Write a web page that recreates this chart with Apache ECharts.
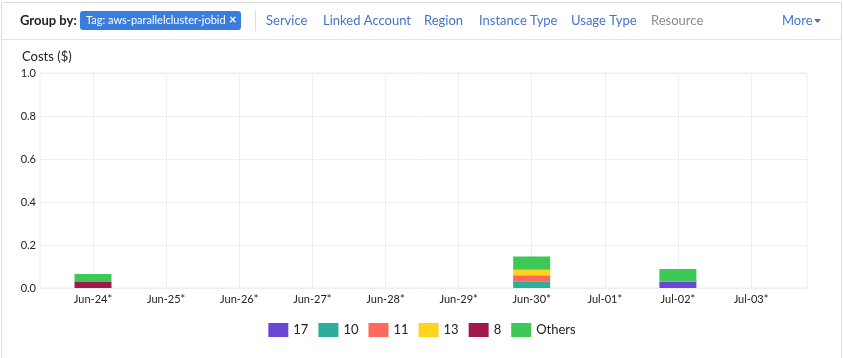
<!DOCTYPE html>
<html><head><meta charset="utf-8">
<script src="https://cdn.jsdelivr.net/npm/echarts@6/dist/echarts.min.js"></script>
<style>html,body{margin:0;padding:0;background:#fff}#c{width:844px;height:358px}</style>
</head><body><div id="c"></div>
<script>
const categories = ['Jun-24*','Jun-25*','Jun-26*','Jun-27*','Jun-28*','Jun-29*','Jun-30*','Jul-01*','Jul-02*','Jul-03*'];
const s17    = [0,     0, 0, 0, 0, 0, 0,     0, 0.029, 0];
const s10    = [0,     0, 0, 0, 0, 0, 0.031, 0, 0,     0];
const s11    = [0,     0, 0, 0, 0, 0, 0.028, 0, 0,     0];
const s13    = [0,     0, 0, 0, 0, 0, 0.026, 0, 0,     0];
const s8     = [0.028, 0, 0, 0, 0, 0, 0,     0, 0,     0];
const others = [0.037, 0, 0, 0, 0, 0, 0.062, 0, 0.059, 0];
const yTicks = [0, 0.2, 0.4, 0.6, 0.8, 1.0];
const seriesNames = ['17','10','11','13','8','Others'];
const seriesData = [s17, s10, s11, s13, s8, others];
const colors = ['#6b47d5','#2bae9b','#fd6a5b','#fdd51d','#a1184e','#3dc857'];

const FONT = 'Lato, "Open Sans", sans-serif';
const linkColor = '#4673c6';
const headerY = 21;
function hText(x, text, color) {
  return {type:'text', left:x, top:headerY-7, style:{text:text, fill:color, font:'13px ' + FONT}};
}

const chart = echarts.init(document.getElementById('c'), null, {renderer:'canvas'});
chart.setOption({
  animation:false,
  color: colors,
  textStyle:{fontFamily:FONT},
  grid:[
    {left:93, right:93, top:73, bottom:70},
    {left:40, right:37, top:73, bottom:70, show:true, borderColor:'#eeeeee', borderWidth:1}
  ],
  xAxis:[
    {type:'category', gridIndex:0, data:categories, boundaryGap:false,
     axisLine:{show:false}, axisTick:{show:false},
     axisLabel:{color:'#222', fontSize:11, margin:6, fontFamily:FONT, interval:0},
     splitLine:{show:true, lineStyle:{color:'#eeeeee'}}},
    {type:'category', gridIndex:1, data:categories, show:false}
  ],
  yAxis:[
    {type:'value', gridIndex:0, min:0, max:1, show:false, splitLine:{show:false}},
    {type:'value', gridIndex:1, min:yTicks[0], max:yTicks[yTicks.length-1], interval:0.2,
     axisLine:{show:false}, axisTick:{show:false},
     axisLabel:{color:'#222', fontSize:11, margin:4, fontFamily:FONT, formatter:v=>v.toFixed(1)},
     splitLine:{show:true, lineStyle:{color:'#eeeeee'}}}
  ],
  legend:{
    data:seriesNames, left:'center', top:318, itemWidth:20, itemHeight:14, itemGap:10,
    icon:'rect', textStyle:{color:'#222', fontSize:13, fontFamily:FONT}
  },
  series: seriesNames.map((n,i)=>({
    name:n, type:'bar', stack:'total', xAxisIndex:0, yAxisIndex:0,
    barWidth:37, data:seriesData[i], itemStyle:{color:colors[i]}
  })),
  graphic:[
    {type:'rect', shape:{x:1.5, y:2.5, width:840, height:370}, style:{fill:'none', stroke:'#dddddd', lineWidth:1}, silent:true, z:-1},
    {type:'line', shape:{x1:1, y1:39.5, x2:842, y2:39.5}, style:{stroke:'#e2e2e2', lineWidth:1}},
    {type:'line', shape:{x1:255.5, y1:10, x2:255.5, y2:31}, style:{stroke:'#dddddd', lineWidth:1}},
    {type:'text', left:20, top:headerY-7, style:{text:'Group by:', fill:'#222', font:'bold 13px ' + FONT}},
    {type:'rect', shape:{x:80, y:11, width:161, height:19, r:3}, style:{fill:'#3a7ddc'}},
    {type:'text', left:86, top:headerY-6, style:{text:'Tag: aws-parallelcluster-jobid', fill:'#fff', font:'11px ' + FONT}},
    {type:'text', left:229, top:headerY-8, style:{text:'×', fill:'#fff', font:'bold 13px ' + FONT}},
    hText(266, 'Service', linkColor),
    hText(323, 'Linked Account', linkColor),
    hText(424, 'Region', linkColor),
    hText(479, 'Instance Type', linkColor),
    hText(571, 'Usage Type', linkColor),
    hText(651, 'Resource', '#8a8a8a'),
    hText(782, 'More', linkColor),
    {type:'polygon', shape:{points:[[814,19],[821,19],[817.5,23]]}, style:{fill:linkColor}},
    {type:'text', left:22, top:50, style:{text:'Costs ($)', fill:'#222', font:'13px ' + FONT}}
  ]
});
</script></body></html>
